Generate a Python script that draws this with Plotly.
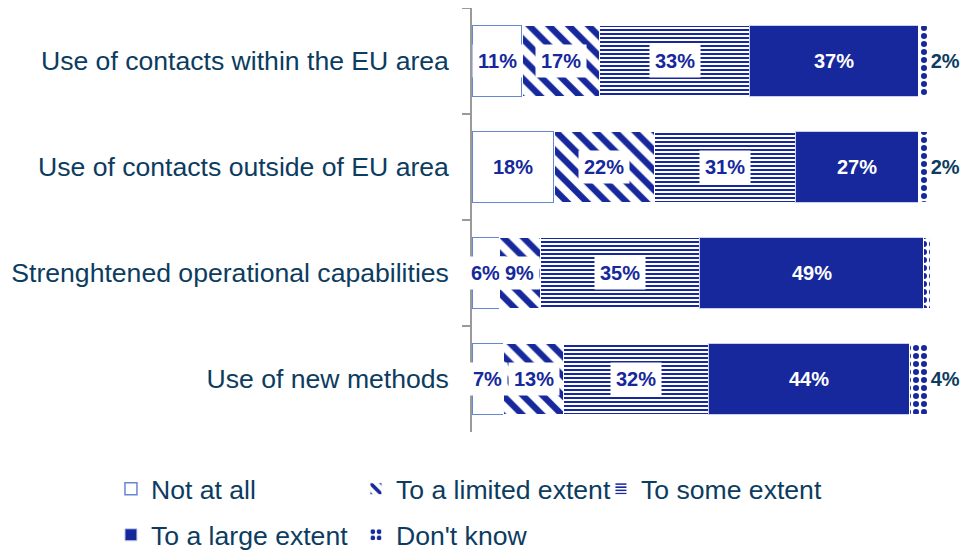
import plotly.graph_objects as go

categories = ["Use of contacts within the EU area",
              "Use of contacts outside of EU area",
              "Strenghtened operational capabilities",
              "Use of new methods"]
series_names = ["Not at all", "To a limited extent", "To some extent",
                "To a large extent", "Don't know"]
not_at_all = [11, 18, 6, 7]
limited = [17, 22, 9, 13]
some = [33, 31, 35, 32]
large = [37, 27, 49, 44]
dont_know = [2, 2, 2, 4]

BLUE = "#16289c"
TEAL = "#0c3c5f"
FONT = "Arial, Liberation Sans, sans-serif"

values = [not_at_all, limited, some, large, dont_know]
styles = [
    dict(color="white", line=dict(color="#6688d4", width=1.5)),
    dict(color="white", line=dict(color="white", width=1),
         pattern=dict(shape="\\", fgcolor=BLUE, bgcolor="white", fgopacity=1,
                      size=14, solidity=0.45)),
    dict(color="white", line=dict(color="white", width=1),
         pattern=dict(shape="-", fgcolor=BLUE, bgcolor="white", fgopacity=1,
                      size=4, solidity=0.5)),
    dict(color=BLUE, line=dict(color="#c8d0ee", width=1)),
    dict(color="white", line=dict(color="white", width=1),
         pattern=dict(shape=".", fgcolor=BLUE, bgcolor="white", fgopacity=1,
                      size=8, solidity=0.45)),
]
legends = ["legend", "legend", "legend", "legend2", "legend2"]

fig = go.Figure()
for i, (name, vals) in enumerate(zip(series_names, values)):
    kw = {}
    if i == 4:
        kw = dict(text=[f"{v}%" for v in vals], textposition="outside",
                  textfont=dict(color=TEAL, size=20, family=FONT, weight="bold"),
                  cliponaxis=False)
    fig.add_trace(go.Bar(
        y=categories, x=vals, name=name, orientation="h",
        marker=styles[i], width=0.67, legend=legends[i], **kw))

# in-bar labels
annotations = []
for ci, cat in enumerate(categories):
    cum = 0
    for si in range(4):
        v = values[si][ci]
        center = cum + v / 2
        cum += v
        if si == 3:
            annotations.append(dict(x=center, y=cat, xref="x", yref="y",
                                    text=f"<b>{v}%</b>", showarrow=False,
                                    font=dict(color="white", size=20, family=FONT)))
        else:
            annotations.append(dict(x=center, y=cat, xref="x", yref="y",
                                    text=f"<b>{v}%</b>", showarrow=False,
                                    bgcolor="white", borderpad=5,
                                    font=dict(color=BLUE, size=20, family=FONT)))

legend_common = dict(orientation="h", xref="paper", yref="paper",
                     xanchor="left", yanchor="middle", entrywidth=200,
                     font=dict(size=26.6, color=TEAL, family=FONT),
                     traceorder="normal", bgcolor="rgba(0,0,0,0)")

fig.update_layout(
    width=968, height=551,
    barmode="stack",
    plot_bgcolor="white", paper_bgcolor="white",
    margin=dict(l=464, r=46, t=0, b=127, autoexpand=False),
    font=dict(family=FONT, color=TEAL),
    annotations=annotations,
    legend=dict(x=-0.7883, y=-0.1344, **legend_common),
    legend2=dict(x=-0.7883, y=-0.2429, **legend_common),
)
fig.update_xaxes(range=[0, 100.5], visible=False, showgrid=False)
fig.update_yaxes(autorange="reversed", showline=True, linecolor="#9a9a9a", linewidth=1.5,
                 ticks="outside", tickson="boundaries", ticklen=8, tickcolor="#9a9a9a",
                 tickwidth=1.5, ticklabelstandoff=16, showgrid=False,
                 tickfont=dict(size=26.6, color=TEAL, family=FONT))

fig.write_html("out.html")
